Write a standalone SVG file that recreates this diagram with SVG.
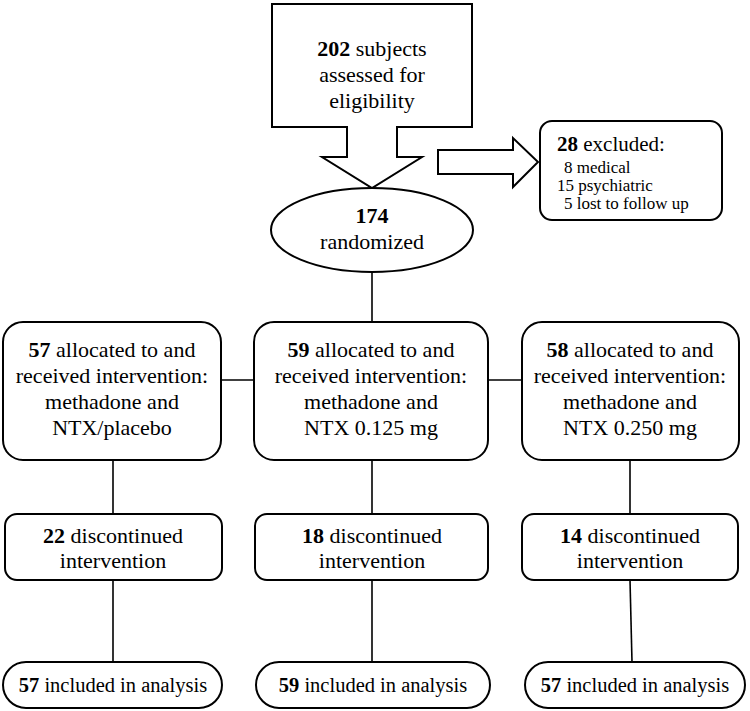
<svg xmlns="http://www.w3.org/2000/svg" width="750" height="711" viewBox="0 0 750 711">
<style>
.s{fill:#fff;stroke:#000;stroke-width:2}
.c{fill:none;stroke:#000;stroke-width:1.6}
text{font-family:Liberation Serif,Tinos,Times New Roman,Times,Noto Serif,DejaVu Serif,serif;fill:#000;font-size:22px}
.m{text-anchor:middle}
.b{font-weight:bold}
.sm{font-size:17px}
.ex{font-size:21px}
.in{font-size:20.5px}
</style>
<rect width="750" height="711" fill="#fff"/>
<g id="connectors">
<line class="c" x1="372" y1="272" x2="372" y2="322"/>
<line class="c" x1="221" y1="380" x2="254" y2="380"/>
<line class="c" x1="488" y1="380" x2="522" y2="380"/>
<line class="c" x1="113" y1="460" x2="113" y2="514"/>
<line class="c" x1="372" y1="460" x2="372" y2="514"/>
<line class="c" x1="630" y1="460" x2="630" y2="514"/>
<line class="c" x1="113" y1="580" x2="113" y2="662"/>
<line class="c" x1="372" y1="580" x2="372" y2="662"/>
<line class="c" x1="630" y1="580" x2="632" y2="662"/>
</g>
<g id="assessed">
<path class="s" d="M272,4 H472 V127 H397 V157 H422 L372,188 L322,157 H347 V127 H272 Z"/>
<text class="m" x="372" y="56"><tspan class="b">202</tspan> subjects</text>
<text class="m" x="372" y="82">assessed for</text>
<text class="m" x="372" y="108">eligibility</text>
</g>
<g id="exclusion-arrow">
<path class="s" d="M438,150 H513 V138 L538,162 L513,187 V174 H438 Z"/>
</g>
<g id="excluded">
<rect class="s" x="540" y="121" width="182" height="99" rx="12"/>
<text class="ex" x="557" y="151"><tspan class="b">28</tspan> excluded:</text>
<text class="sm" x="564" y="173">8 medical</text>
<text class="sm" x="557" y="191">15 psychiatric</text>
<text class="sm" x="564" y="209">5 lost to follow up</text>
</g>
<g id="randomized">
<ellipse class="s" cx="372" cy="230" rx="101" ry="42"/>
<text class="m b" x="372" y="223">174</text>
<text class="m" x="372" y="249">randomized</text>
</g>
<g id="alloc-placebo">
<rect class="s" x="3" y="322" width="218" height="138" rx="20"/>
<text class="m" x="112" y="357"><tspan class="b">57</tspan> allocated to and</text>
<text class="m" x="112" y="383">received intervention:</text>
<text class="m" x="112" y="409">methadone and</text>
<text class="m" x="112" y="435">NTX/placebo</text>
</g>
<g id="alloc-0125">
<rect class="s" x="254" y="322" width="234" height="138" rx="20"/>
<text class="m" x="371" y="357"><tspan class="b">59</tspan> allocated to and</text>
<text class="m" x="371" y="383">received intervention:</text>
<text class="m" x="371" y="409">methadone and</text>
<text class="m" x="371" y="435">NTX 0.125 mg</text>
</g>
<g id="alloc-0250">
<rect class="s" x="522" y="322" width="217" height="138" rx="20"/>
<text class="m" x="630" y="357"><tspan class="b">58</tspan> allocated to and</text>
<text class="m" x="630" y="383">received intervention:</text>
<text class="m" x="630" y="409">methadone and</text>
<text class="m" x="630" y="435">NTX 0.250 mg</text>
</g>
<g id="disc-placebo">
<rect class="s" x="5" y="514" width="217" height="66" rx="12"/>
<text class="m" x="113" y="543"><tspan class="b">22</tspan> discontinued</text>
<text class="m" x="113" y="568">intervention</text>
</g>
<g id="disc-0125">
<rect class="s" x="255" y="514" width="233" height="66" rx="12"/>
<text class="m" x="372" y="543"><tspan class="b">18</tspan> discontinued</text>
<text class="m" x="372" y="568">intervention</text>
</g>
<g id="disc-0250">
<rect class="s" x="522" y="514" width="216" height="66" rx="12"/>
<text class="m" x="630" y="543"><tspan class="b">14</tspan> discontinued</text>
<text class="m" x="630" y="568">intervention</text>
</g>
<g id="incl-placebo">
<rect class="s" x="3" y="662" width="219" height="46" rx="23"/>
<text class="m in" x="113" y="692"><tspan class="b">57</tspan> included in analysis</text>
</g>
<g id="incl-0125">
<rect class="s" x="256" y="662" width="234" height="46" rx="23"/>
<text class="m in" x="373" y="692"><tspan class="b">59</tspan> included in analysis</text>
</g>
<g id="incl-0250">
<rect class="s" x="525" y="662" width="220" height="46" rx="23"/>
<text class="m in" x="635" y="692"><tspan class="b">57</tspan> included in analysis</text>
</g>
</svg>
